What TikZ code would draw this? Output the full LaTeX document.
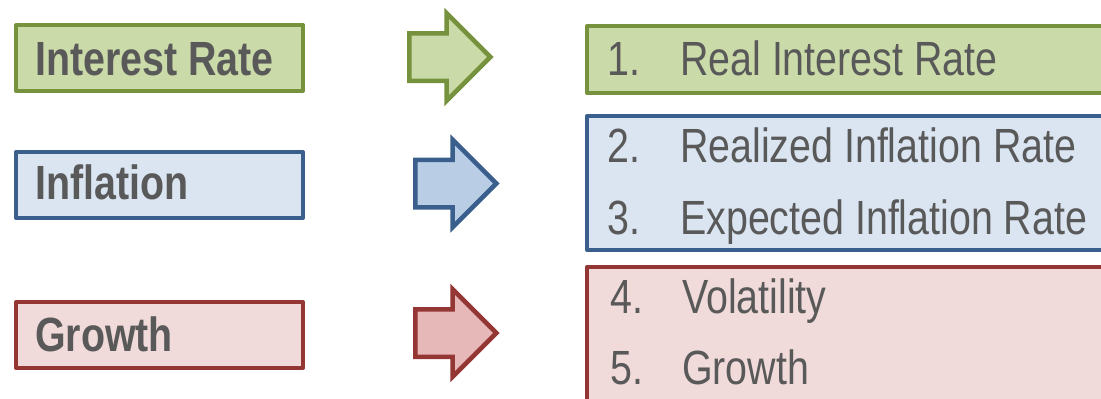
\documentclass[tikz,border=0pt]{standalone}
\usepackage{fontspec}
\setmainfont{Liberation Sans}[FakeStretch=0.82]
\usetikzlibrary{shapes.arrows, positioning}

\definecolor{greenfill}{HTML}{CADAA8}
\definecolor{greenline}{HTML}{76923C}
\definecolor{bluefill}{HTML}{DAE5F1}
\definecolor{blueline}{HTML}{3A5F8C}
\definecolor{bluearrow}{HTML}{B9CDE5}
\definecolor{redfill}{HTML}{F1DADA}
\definecolor{redline}{HTML}{943634}
\definecolor{redarrow}{HTML}{E6B8B7}
\definecolor{textgray}{HTML}{595959}

\begin{document}
\begin{tikzpicture}[
         x=1pt, y=-1pt,
         box/.style={rectangle, draw, line width=4pt, line join=round, inner sep=0pt},
         driver/.style={box, anchor=north west, minimum width=287pt, minimum height=66pt},
         factor/.style={box, anchor=north west, minimum width=700pt},
         blockarrow/.style={single arrow, draw, line width=4.5pt, inner xsep=0pt,
            inner ysep=21.5pt, minimum height=81pt, single arrow head extend=20pt},
         word/.style={anchor=base west, inner sep=0pt, text=textgray,
            font=\fontsize{48}{56}\selectfont},
         heading/.style={word, font=\fontsize{48}{56}\selectfont\bfseries}
      ]
         \clip (0,0) rectangle (1101,399);

         % Boxes on the left
         \node[driver, draw=greenline, fill=greenfill] (rate) at (14,23) {};
         \node[driver, draw=blueline, fill=bluefill] (infl) at (14,150) {};
         \node[driver, draw=redline, fill=redfill] (grow) at (14,300) {};

         \node[heading] (ratetext) at (35,75) {Interest Rate};
         \node[heading] (infltext) at (35,199) {Inflation};
         \node[heading] (growtext) at (35,351) {Growth};

         % Block arrows
         \node[blockarrow, draw=greenline, fill=greenfill] (rarrow) at (438,57) {};
         \node[blockarrow, draw=blueline, fill=bluearrow] (iarrow) at (444,183.5) {};
         \node[blockarrow, draw=redline, fill=redarrow] (garrow) at (444,333) {};

         % Boxes on the right
         \node[factor, draw=greenline, fill=greenfill, minimum height=67pt] (real) at (585,24) {};
         \node[factor, draw=blueline, fill=bluefill, minimum height=134pt] (expect) at (585,114) {};
         \node[factor, draw=redline, fill=redfill, minimum height=160pt] (vol) at (585,265) {};

         \node[word] (n1) at (607,75) {1.};
         \node[word] (t1) at (680,75) {Real Interest Rate};
         \node[word] (n2) at (607,162) {2.};
         \node[word] (t2) at (680,162) {Realized Inflation Rate};
         \node[word] (n3) at (607,234) {3.};
         \node[word] (t3) at (680,234) {Expected Inflation Rate};
         \node[word] (n4) at (610,313) {4.};
         \node[word] (t4) at (682,313) {Volatility};
         \node[word] (n5) at (610,384) {5.};
         \node[word] (t5) at (682,384) {Growth};
        ;
      \end{tikzpicture}
\end{document}
